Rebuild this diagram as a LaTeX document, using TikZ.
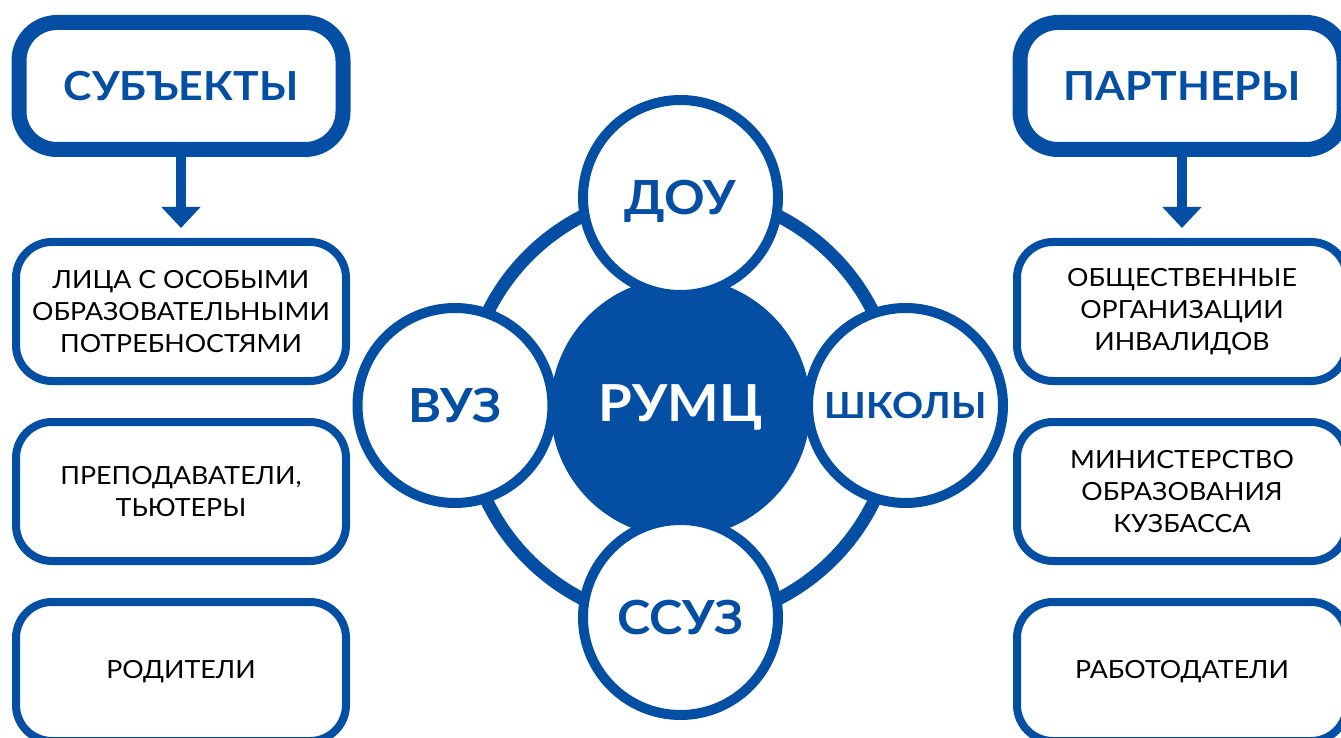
\documentclass[tikz,border=0pt]{standalone}
\usepackage{fontspec}
\setmainfont{Lato}[FakeStretch=1.07]
\usepackage{tikz}
\usetikzlibrary{arrows.meta}
\definecolor{rumcblue}{RGB}{4,79,164}
\tikzset{
  head/.style={draw=rumcblue, line width=7.5pt, rounded corners=19pt, fill=white,
    minimum width=162pt, minimum height=63.5pt, text=rumcblue,
    font=\fontsize{20}{24}\selectfont\bfseries},
  item/.style={draw=rumcblue, line width=4pt, rounded corners=18pt, fill=white,
    minimum width=165pt, minimum height=69.5pt, align=center,
    font=\fontsize{12.5}{16}\selectfont},
  pointer/.style={color=rumcblue, line width=5pt, -{Triangle[width=19pt,length=10.5pt]},
    shorten >=5pt},
  krug/.style={circle, draw=rumcblue, line width=5pt, fill=white, minimum size=97.5pt,
    inner sep=0pt, text depth=0pt, text=rumcblue, font=\fontsize{23.5}{27}\selectfont\bfseries},
  yadro/.style={circle, fill=rumcblue, minimum size=130pt, inner sep=0pt, text=white,
    font=\fontsize{25.5}{30}\selectfont\bfseries},
  ring/.style={draw=rumcblue, line width=6.5pt}
}
\begin{document}
\begin{tikzpicture}[x=0.5pt,y=-0.5pt]
  \clip (0,0) rectangle (1341,738);
    \draw (181,86) node[head] (subjekty) {СУБЪЕКТЫ};
    \draw (1182,86) node[head] (partnery) {ПАРТНЕРЫ};

      \draw (181,311.5) node[item] (lica) {ЛИЦА С ОСОБЫМИ\\ОБРАЗОВАТЕЛЬНЫМИ\\ПОТРЕБНОСТЯМИ};
      \draw (181,491.5) node[item] (prepod) {ПРЕПОДАВАТЕЛИ,\\ТЬЮТЕРЫ};
      \draw (181,671.5) node[item] (roditeli) {РОДИТЕЛИ};
      \draw (1182,311.5) node[item] (obshch) {ОБЩЕСТВЕННЫЕ\\ОРГАНИЗАЦИИ\\ИНВАЛИДОВ};
      \draw (1182,491.5) node[item] (minobr) {МИНИСТЕРСТВО\\ОБРАЗОВАНИЯ\\КУЗБАССА};
      \draw (1182,671.5) node[item] (rabotodat) {РАБОТОДАТЕЛИ};

     \path[pointer] (subjekty) edge (lica);
     \path[pointer] (partnery) edge (obshch);

   \draw (680.5,407.5) node[yadro] (rumc) {РУМЦ};
   \draw[ring] (rumc) circle[radius=107.5pt];
      \draw (680.5,197.5) node[krug] (dou) {ДОУ};
      \draw (455,405.5) node[krug] (vuz) {ВУЗ};
      \draw (905.5,405.5) node[krug, font=\fontsize{18}{22}\selectfont\bfseries] (shkoly) {ШКОЛЫ};
      \draw (680.5,617.5) node[krug] (ssuz) {ССУЗ};

\end{tikzpicture}
\end{document}
